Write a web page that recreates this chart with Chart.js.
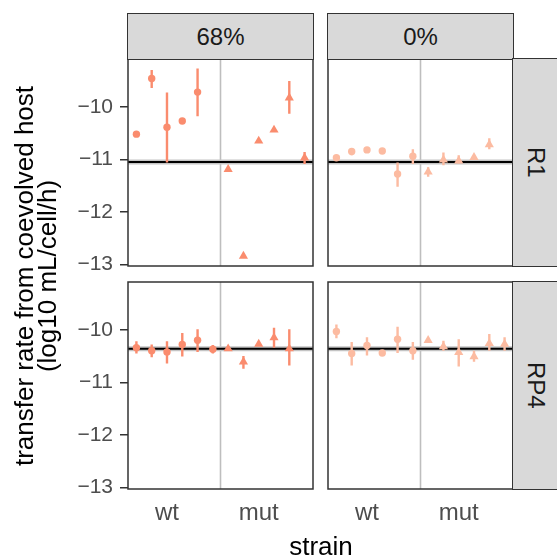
<!DOCTYPE html>
<html><head><meta charset="utf-8">
<script src="https://cdn.jsdelivr.net/npm/chart.js@4/dist/chart.umd.min.js"></script>
<style>
body{margin:0;background:#fff;width:557px;height:559px;overflow:hidden;position:relative;font-family:"Liberation Sans",Arial,sans-serif;}
canvas{position:absolute;left:0;top:0;}
.strip{position:absolute;background:#D9D9D9;border:1.5px solid #333;box-sizing:border-box;color:#1A1A1A;font-size:24px;display:flex;align-items:center;justify-content:center;}
.vt{writing-mode:vertical-rl;}
#ytitle{position:absolute;left:36px;top:276px;width:520px;transform:translate(-50%,-50%) rotate(-90deg);text-align:center;font-size:26px;line-height:23px;color:#000;white-space:nowrap;}
#xtitle{position:absolute;left:221px;top:531px;width:200px;text-align:center;font-size:26px;line-height:30px;color:#000;}
</style></head><body>
<canvas id="c0" width="557" height="559"></canvas>
<canvas id="c1" width="557" height="559"></canvas>
<canvas id="c2" width="557" height="559"></canvas>
<canvas id="c3" width="557" height="559"></canvas>
<div class="strip" style="left:127px;top:13px;width:187px;height:47px;">68%</div>
<div class="strip" style="left:327px;top:13px;width:187px;height:47px;">0%</div>
<div class="strip" style="left:512px;top:58px;width:48px;height:209px;"><span class="vt">R1</span></div>
<div class="strip" style="left:512px;top:281px;width:48px;height:209px;"><span class="vt">RP4</span></div>
<div id="ytitle">transfer rate from coevolved host<br>(log10 mL/cell/h)</div>
<div id="xtitle">strain</div>
<script>
// ---- data ----
const strains = ['wt','wt','wt','wt','wt','wt','mut','mut','mut','mut','mut','mut'];
const positions = [0,1,2,3,4,5,6,7,8,9,10,11];
const xTickPos = [2, 8];
const xTickLabels = ['wt', 'mut'];
const yTicks = [-13, -12, -11, -10];
const facetCols = ['68%', '0%'];
const facetRows = ['R1', 'RP4'];
const refLine = {R1: -11.05, RP4: -10.36};

// 68% / R1
const mean68R1 = [-10.52, -9.46, -10.39, -10.27, -9.72, null, -11.19, -12.84, -10.65, -10.44, -9.83, -10.97];
const lo68R1   = [null, -9.64, -11.06, null, -10.18, null, null, null, null, null, -10.13, -11.09];
const hi68R1   = [null, -9.30, -9.73, null, -9.27, null, null, null, null, null, -9.51, -10.86];
// 0% / R1
const mean0R1 = [-10.97, -10.85, -10.82, -10.84, -11.28, -10.94, -11.24, -11.01, -11.03, -10.96, -10.72, null];
const lo0R1   = [null, -10.92, null, null, -11.52, -11.09, -11.33, -11.11, -11.08, null, -10.81, null];
const hi0R1   = [null, -10.79, null, null, -11.06, -10.81, -11.15, -10.87, -10.92, null, -10.60, null];
// 68% / RP4
const mean68RP4 = [-10.34, -10.40, -10.42, -10.28, -10.20, -10.37, -10.36, -10.61, -10.27, -10.15, -10.36, null];
const lo68RP4   = [-10.45, -10.52, -10.64, -10.51, -10.42, -10.45, null, -10.74, null, -10.34, -10.68, null];
const hi68RP4   = [-10.22, -10.28, -10.22, -10.06, -9.99, -10.29, null, -10.50, null, -9.96, -9.99, null];
// 0% / RP4
const mean0RP4 = [-10.03, -10.45, -10.30, -10.44, -10.18, -10.40, -10.20, -10.32, -10.43, -10.51, -10.26, -10.27];
const lo0RP4   = [-10.16, -10.68, -10.49, null, -10.44, -10.57, null, -10.40, -10.70, -10.61, -10.40, -10.40];
const hi0RP4   = [-9.90, -10.23, -10.14, null, -9.94, -10.23, null, -10.21, -10.18, -10.40, -10.08, -10.14];

const colColors = {'68%': '#FA8C6E', '0%': '#FCBBA1'};

// ---- layout ----
const X_MIN = -0.55, X_MAX = 11.55, Y_MIN = -13.03, Y_MAX = -9.09;
const panels = [
  {id:'c0', col:'68%', row:'R1', mean:mean68R1, lo:lo68R1, hi:hi68R1, left:true, bottom:false,
   pad:{left:68, right:244, top:59, bottom:293}},
  {id:'c1', col:'0%', row:'R1', mean:mean0R1, lo:lo0R1, hi:hi0R1, left:false, bottom:false,
   pad:{left:328, right:44, top:59, bottom:293}},
  {id:'c2', col:'68%', row:'RP4', mean:mean68RP4, lo:lo68RP4, hi:hi68RP4, left:true, bottom:true,
   pad:{left:68, right:244, top:282, bottom:30}},
  {id:'c3', col:'0%', row:'RP4', mean:mean0RP4, lo:lo0RP4, hi:hi0RP4, left:false, bottom:true,
   pad:{left:328, right:44, top:282, bottom:30}},
];

const borderPlugin = {
  id:'panelBorder',
  afterDraw(chart){
    const a = chart.chartArea, ctx = chart.ctx;
    ctx.save();
    ctx.strokeStyle = '#333333';
    ctx.lineWidth = 1.5;
    ctx.strokeRect(a.left, a.top, a.right - a.left, a.bottom - a.top);
    ctx.restore();
  }
};

const fmt = v => (v < 0 ? '\u2212' : '') + Math.abs(v);

panels.forEach(p => {
  const color = colColors[p.col];
  const pts = [], styles = [], radii = [];
  positions.forEach((x, i) => {
    if (p.mean[i] === null) return;
    pts.push({x, y: p.mean[i]});
    const tri = strains[i] === 'mut';
    styles.push(tri ? 'triangle' : 'circle');
    radii.push(tri ? 5.3 : 3.7);
  });
  const bars = [];
  positions.forEach((x, i) => {
    if (p.lo[i] === null) return;
    bars.push({x, y: p.lo[i]}, {x, y: p.hi[i]}, {x, y: null});
  });
  const ref = refLine[p.row];
  new Chart(document.getElementById(p.id), {
    type: 'scatter',
    data: {
      datasets: [
        {type:'line', data:[{x:5.5,y:Y_MIN},{x:5.5,y:Y_MAX}], borderColor:'#BEBEBE', borderWidth:1.6, pointRadius:0, order:10},
        {type:'line', data:[{x:X_MIN,y:ref},{x:X_MAX,y:ref}], borderColor:'#C4C4C4', borderWidth:5, pointRadius:0, order:9},
        {type:'line', data:[{x:X_MIN,y:ref},{x:X_MAX,y:ref}], borderColor:'#000000', borderWidth:2, pointRadius:0, order:8},
        {type:'line', data:bars, borderColor:color, borderWidth:2.4, pointRadius:0, spanGaps:false, borderCapStyle:'butt', order:2},
        {type:'scatter', data:pts, backgroundColor:color, borderColor:color, borderWidth:0, pointStyle:styles, pointRadius:radii, order:1}
      ]
    },
    options: {
      responsive:false, animation:false, events:[],
      layout:{padding:p.pad},
      plugins:{legend:{display:false}, tooltip:{enabled:false}},
      scales:{
        x:{type:'linear', min:X_MIN, max:X_MAX, offset:false, display:p.bottom,
           afterBuildTicks:s => { s.ticks = xTickPos.map(v => ({value:v})); },
           afterFit:s => { s.height = p.bottom ? 40 : 0; },
           grid:{display:false, drawTicks:false},
           border:{display:false},
           ticks:{autoSkip:false, maxRotation:0, padding:10, color:'#4D4D4D',
                  font:{family:'"Liberation Sans", Arial, sans-serif', size:24},
                  callback:v => xTickLabels[xTickPos.indexOf(v)]}
        },
        y:{type:'linear', min:Y_MIN, max:Y_MAX, display:p.left,
           afterBuildTicks:s => { s.ticks = yTicks.map(v => ({value:v})); },
           afterFit:s => { s.width = p.left ? 60 : 0; },
           grid:{display:true, drawOnChartArea:false, drawTicks:true, tickLength:8, color:'#333333', lineWidth:1.5},
           border:{display:false},
           ticks:{padding:7, color:'#4D4D4D', font:{family:'"Liberation Sans", Arial, sans-serif', size:21},
                  callback:v => fmt(v)}
        }
      }
    },
    plugins:[borderPlugin]
  });
});
</script>
</body></html>
